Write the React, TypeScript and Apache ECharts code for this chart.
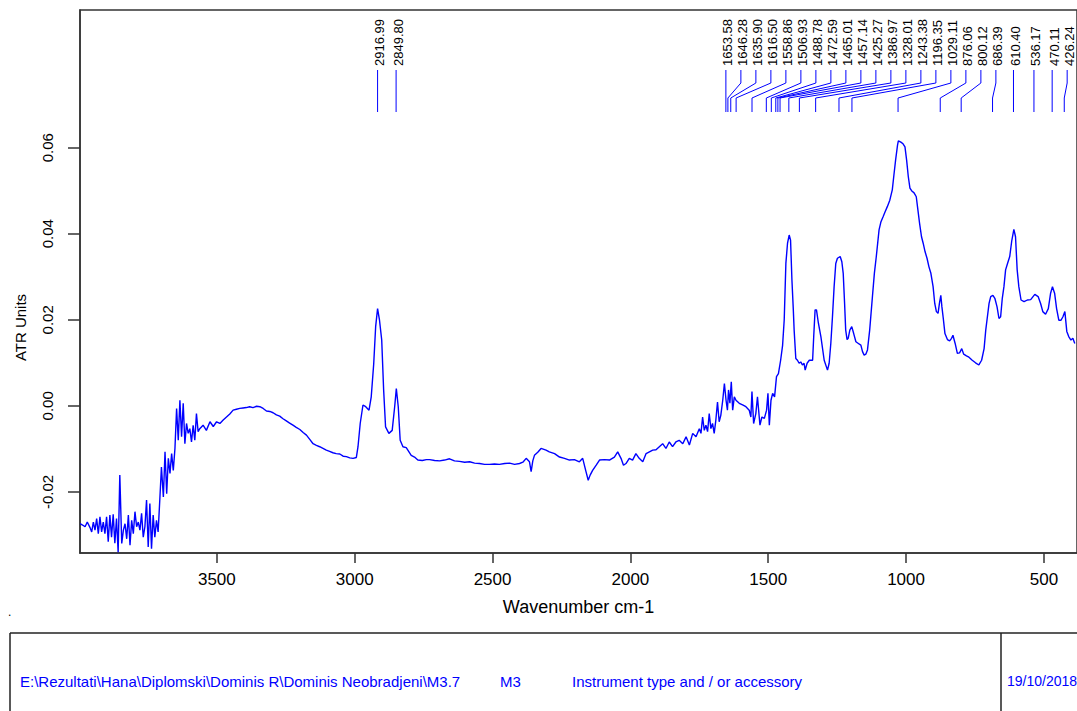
import React, { useEffect, useRef } from "react";
import * as echarts from "echarts";

// Spectrum: wavenumber (cm-1) and ATR units
const wavenumber = [
  3996, 3987, 3978, 3970, 3960, 3954, 3948, 3942, 3936, 3930, 3924, 3918, 3912, 3906, 3900, 3894, 3888, 3882, 3876, 3870,
  3864, 3858, 3852, 3845, 3839, 3833, 3827, 3821, 3815, 3809, 3803, 3797, 3791, 3785, 3779, 3773, 3767, 3761, 3755, 3749,
  3743, 3737, 3731, 3725, 3719, 3713, 3707, 3701, 3694, 3688, 3682, 3676, 3670, 3664, 3658, 3652, 3646, 3640, 3634, 3628,
  3622, 3616, 3610, 3604, 3598, 3592, 3586, 3580, 3574, 3568, 3562, 3550, 3538, 3525, 3513, 3501, 3489, 3477, 3465, 3453,
  3441, 3429, 3417, 3405, 3393, 3381, 3369, 3356, 3344, 3332, 3320, 3308, 3296, 3284, 3272, 3260, 3248, 3236, 3224, 3212,
  3199, 3187, 3175, 3163, 3151, 3139, 3127, 3115, 3103, 3091, 3079, 3067, 3054, 3042, 3030, 3018, 3006, 2994,
  2988, 2980, 2970, 2960, 2948, 2940, 2931, 2924, 2917, 2910, 2902, 2895, 2888, 2876, 2864, 2855, 2849, 2842, 2835, 2825,
  2813, 2795, 2783, 2771, 2755, 2740, 2728, 2710, 2692, 2674, 2656, 2638, 2620, 2601, 2583, 2565, 2547, 2529, 2511, 2493,
  2475, 2456, 2438, 2420, 2402, 2390, 2378, 2366, 2360, 2354, 2348, 2336, 2324, 2306, 2294, 2275, 2257, 2239, 2221, 2203,
  2185, 2173, 2161, 2153, 2146, 2137, 2124, 2112, 2094, 2076, 2058, 2046, 2034, 2025, 2016, 2004, 1992, 1980, 1968, 1955,
  1943, 1931, 1919, 1907, 1895, 1883, 1871, 1859, 1847, 1835, 1823, 1810, 1798, 1786, 1774, 1762, 1750, 1744, 1738, 1732,
  1726, 1720, 1714, 1708, 1702, 1696, 1690, 1684, 1678, 1672, 1665, 1659, 1653, 1648, 1644, 1639, 1634, 1629, 1623, 1617,
  1605, 1593, 1581, 1569, 1563, 1559, 1553, 1545, 1539, 1530, 1523, 1514, 1506, 1501, 1496, 1490, 1484, 1477, 1470, 1463,
  1455, 1448, 1442, 1436, 1430, 1424, 1419, 1414, 1409, 1406, 1400, 1394, 1388, 1382, 1376, 1370, 1366, 1359, 1351, 1339,
  1335, 1330, 1325, 1318, 1309, 1297, 1285, 1279, 1273, 1267, 1261, 1255, 1249, 1239, 1233, 1228, 1223, 1219, 1214, 1210,
  1204, 1197, 1190, 1182, 1173, 1164, 1158, 1152, 1146, 1140, 1132, 1122, 1115, 1108, 1098, 1091, 1083, 1076, 1068, 1059,
  1050, 1044, 1038, 1031, 1028, 1019, 1011, 1004, 998, 992, 986, 980, 971, 963, 957, 951, 944, 938, 931, 924,
  917, 910, 902, 896, 890, 884, 879, 874, 870, 865, 859, 850, 842, 835, 830, 822, 814, 806, 798, 791,
  781, 772, 760, 748, 736, 726, 717, 711, 705, 699, 693, 685, 678, 670, 663, 657, 651, 645, 639, 632,
  624, 617, 609, 603, 597, 591, 583, 572, 560, 548, 533, 521, 512, 504, 494, 484, 476, 469, 461, 454,
  446, 438, 431, 424, 417, 410, 402, 395, 388,
];

const atrUnits = [
  -0.0274, -0.0277, -0.0281, -0.027, -0.0283, -0.0293, -0.027, -0.0289, -0.0262, -0.0297, -0.0258, -0.0293, -0.027, -0.0297, -0.0258, -0.0316, -0.0254, -0.0305, -0.0252, -0.0319,
  -0.0262, -0.034, -0.0161, -0.032, -0.0289, -0.0274, -0.0309, -0.0254, -0.0324, -0.0266, -0.0297, -0.0246, -0.0281, -0.027, -0.0289, -0.025, -0.0305, -0.0281, -0.0219, -0.0328,
  -0.0227, -0.0332, -0.0254, -0.0305, -0.0266, -0.0293, -0.0219, -0.0142, -0.0212, -0.0107, -0.0204, -0.0122, -0.0157, -0.0111, -0.015, -0.0099, -0.0006, -0.008, 0.0013, -0.0072,
  0.0006, -0.0088, -0.0041, -0.0064, -0.0053, -0.0084, -0.0045, -0.008, -0.0018, -0.006, -0.0053, -0.0045, -0.0057, -0.0037, -0.0048, -0.0037, -0.0041, -0.0033, -0.0026, -0.0019,
  -0.001, -0.0008, -0.0006, -0.0005, -0.0004, -0.0002, -0.0004, -0.0001, -0.0002, -0.0006, -0.0012, -0.0013, -0.0016, -0.0021, -0.0024, -0.003, -0.0035, -0.004, -0.0045, -0.005,
  -0.0055, -0.0062, -0.0068, -0.0078, -0.0088, -0.0092, -0.0095, -0.0099, -0.0103, -0.0106, -0.0109, -0.0111, -0.0112, -0.0117, -0.0118, -0.0121, -0.0122, -0.012,
  -0.0095, -0.0041, 0.0002, -0.0002, -0.001, 0.0021, 0.0098, 0.0184, 0.0226, 0.0199, 0.0153, 0.0037, -0.0049, -0.0064, -0.0057, -0.0002, 0.004, -0.0002, -0.008, -0.0095,
  -0.0097, -0.0115, -0.0119, -0.0126, -0.0127, -0.0125, -0.0125, -0.0127, -0.0128, -0.0126, -0.0123, -0.0128, -0.0129, -0.0131, -0.013, -0.0133, -0.0134, -0.0136, -0.0136, -0.0135,
  -0.0136, -0.0134, -0.0133, -0.0136, -0.0134, -0.0131, -0.0122, -0.013, -0.0153, -0.0128, -0.0115, -0.0108, -0.0099, -0.0103, -0.0107, -0.0111, -0.0119, -0.0122, -0.0126, -0.0125,
  -0.013, -0.0122, -0.0153, -0.0173, -0.0161, -0.015, -0.0138, -0.0126, -0.0125, -0.0126, -0.0119, -0.0107, -0.0122, -0.0138, -0.0134, -0.0122, -0.0126, -0.0111, -0.0122, -0.013,
  -0.0111, -0.0107, -0.0103, -0.0102, -0.0095, -0.0088, -0.0099, -0.0084, -0.0095, -0.0084, -0.008, -0.0088, -0.0072, -0.0091, -0.0064, -0.0072, -0.0053, -0.0064, -0.0026, -0.0057,
  -0.0045, -0.006, -0.0018, -0.0053, -0.0041, -0.0064, -0.0033, 0.0009, -0.0037, -0.0022, 0.0013, 0.0052, 0.0013, -0.001, 0.0037, 0.0006, 0.0056, -0.001, 0.0021, 0.0013,
  0.0006, 0.0002, -0.0002, -0.001, -0.0026, 0.0033, -0.0041, -0.0018, 0.0021, -0.0045, -0.0026, -0.0029, -0.001, 0.0029, -0.0045, 0.0013, 0.0029, 0.0021, 0.0068, 0.0075,
  0.0106, 0.014, 0.02, 0.0331, 0.0378, 0.0397, 0.0385, 0.0292, 0.0223, 0.0176, 0.011, 0.0106, 0.0099, 0.0102, 0.0095, 0.0099, 0.0083, 0.0099, 0.0106, 0.0106,
  0.0161, 0.0223, 0.0223, 0.0192, 0.0161, 0.0106, 0.0083, 0.0099, 0.0145, 0.0207, 0.0277, 0.0331, 0.0343, 0.0347, 0.0335, 0.0308, 0.0238, 0.0176, 0.0154, 0.0157,
  0.0176, 0.0184, 0.0168, 0.0149, 0.0145, 0.0141, 0.0126, 0.0118, 0.012, 0.013, 0.0176, 0.0254, 0.0308, 0.0347, 0.0409, 0.0428, 0.044, 0.0451, 0.0463, 0.0478,
  0.0502, 0.0537, 0.0571, 0.0606, 0.0616, 0.0613, 0.0609, 0.0602, 0.0571, 0.0533, 0.0506, 0.05, 0.0495, 0.0486, 0.0455, 0.0424, 0.0393, 0.0378, 0.0358, 0.0343,
  0.0323, 0.0308, 0.0277, 0.0238, 0.0219, 0.0215, 0.0238, 0.0257, 0.023, 0.0203, 0.0168, 0.0154, 0.0151, 0.0157, 0.0164, 0.0145, 0.0122, 0.0123, 0.0133, 0.012,
  0.0116, 0.0113, 0.0106, 0.01, 0.0095, 0.0106, 0.0133, 0.0176, 0.0207, 0.0238, 0.0254, 0.0257, 0.025, 0.023, 0.0203, 0.0207, 0.025, 0.0277, 0.0316, 0.0331,
  0.0347, 0.0382, 0.041, 0.0393, 0.0316, 0.0277, 0.0246, 0.0242, 0.0246, 0.0247, 0.0259, 0.0254, 0.0238, 0.0219, 0.0213, 0.0226, 0.0261, 0.0277, 0.0261, 0.0226,
  0.0199, 0.0199, 0.0207, 0.0219, 0.0173, 0.0161, 0.0153, 0.0157, 0.0145,
];

// Labelled peak positions (cm-1), left to right
const peaks = [
  2916.99, 2849.8, 1653.58, 1646.28, 1635.9, 1616.5, 1558.86, 1506.93, 1488.78, 1472.59, 1465.01, 1457.14,
  1425.27, 1386.97, 1328.01, 1243.38, 1196.35, 1029.11, 876.06, 800.12, 686.39, 610.4, 536.17, 470.11, 426.24,
];

const xTicks = [3500, 3000, 2500, 2000, 1500, 1000, 500];
const yTicks = [-0.02, 0, 0.02, 0.04, 0.06];

const footerTexts = [
  "E:\\Rezultati\\Hana\\Diplomski\\Dominis R\\Dominis Neobradjeni\\M3.7",
  "M3",
  "Instrument type and / or accessory",
  "19/10/2018",
];

const FONT = "Liberation Sans, Arial, sans-serif";
const BLUE = "#0000ff";
const AXIS = "#333333";

export default function App() {
  const ref = useRef<HTMLDivElement>(null);

  useEffect(() => {
    if (!ref.current) return;
    const chart = echarts.init(ref.current, undefined, { renderer: "svg" });
    const spectrum = wavenumber.map((w, i) => [w, atrUnits[i]]);

    const option: any = {
      animation: false,
      backgroundColor: "#ffffff",
      textStyle: { fontFamily: FONT },
      grid: {
        left: 80,
        top: 10,
        width: 998,
        height: 543,
        show: true,
        borderColor: AXIS,
        borderWidth: 1.5,
        containLabel: false,
      },
      xAxis: {
        type: "value",
        inverse: true,
        min: 380,
        max: 3996.4,
        position: "bottom",
        name: "Wavenumber cm-1",
        nameLocation: "middle",
        nameGap: 45,
        nameTextStyle: { fontSize: 18, color: "#000", fontFamily: FONT },
        axisLine: { show: true, onZero: false, lineStyle: { color: AXIS, width: 1.5 } },
        axisTick: { show: true, customValues: xTicks, length: 10, lineStyle: { color: AXIS, width: 1.5 } },
        axisLabel: {
          customValues: xTicks,
          fontSize: 17,
          color: "#000",
          margin: 18,
          fontFamily: FONT,
          formatter: (v: number) => String(v),
        },
        splitLine: { show: false },
      },
      yAxis: {
        type: "value",
        min: -0.0342,
        max: 0.092,
        name: "ATR Units",
        nameLocation: "middle",
        nameRotate: 90,
        nameGap: 52,
        nameTextStyle: { fontSize: 15, color: "#000", fontFamily: FONT, padding: [0, 92, 0, 0] },
        axisLine: { show: true, onZero: false, lineStyle: { color: AXIS, width: 1.5 } },
        axisTick: { show: true, customValues: yTicks, length: 12, lineStyle: { color: AXIS, width: 1.5 } },
        axisLabel: {
          customValues: yTicks,
          rotate: 90,
          fontSize: 15,
          color: "#000",
          margin: 25,
          fontFamily: FONT,
          formatter: (v: number) => v.toFixed(2),
        },
        splitLine: { show: false },
      },
      series: [
        {
          type: "line",
          data: spectrum,
          showSymbol: false,
          symbol: "none",
          lineStyle: { color: BLUE, width: 1.4 },
          clip: true,
          z: 3,
        },
        {
          type: "custom",
          data: peaks.map((p) => [p, 0.08]),
          clip: false,
          z: 4,
          renderItem: (params: any, api: any) => {
            const i = params.dataIndex;
            const top = params.coordSys.y;
            const px = peaks.map((p) => api.coord([p, 0])[0]);
            const lx: number[] = [];
            for (let k = 0; k < px.length; k++) {
              lx.push(k === 0 ? px[k] : Math.max(px[k], lx[k - 1] + 15));
            }
            return {
              type: "group",
              children: [
                {
                  type: "polyline",
                  shape: {
                    points: [
                      [lx[i], top + 60],
                      [lx[i], top + 73],
                      [px[i], top + 88],
                      [px[i], top + 102],
                    ],
                  },
                  style: { stroke: BLUE, lineWidth: 1, fill: "none" },
                },
                {
                  type: "text",
                  x: lx[i] + 2,
                  y: top + 56,
                  rotation: Math.PI / 2,
                  style: {
                    text: peaks[i].toFixed(2),
                    fill: "#000",
                    fontSize: 13,
                    fontFamily: FONT,
                    align: "left",
                    verticalAlign: "middle",
                  },
                },
              ],
            };
          },
        },
      ],
      graphic: [
        { type: "line", shape: { x1: 10, y1: 633, x2: 1077, y2: 633 }, style: { stroke: "#222", lineWidth: 1.5 } },
        { type: "line", shape: { x1: 10, y1: 633, x2: 10, y2: 711 }, style: { stroke: "#222", lineWidth: 1.5 } },
        { type: "line", shape: { x1: 1001, y1: 633, x2: 1001, y2: 711 }, style: { stroke: "#222", lineWidth: 1.5 } },
        { type: "text", x: 8, y: 606, style: { text: ".", fill: "#000", fontSize: 12, fontFamily: FONT } },
        {
          type: "text",
          x: 20,
          y: 681,
          style: { text: footerTexts[0], fill: BLUE, fontSize: 15, fontFamily: FONT, verticalAlign: "middle" },
        },
        {
          type: "text",
          x: 500,
          y: 681,
          style: { text: footerTexts[1], fill: BLUE, fontSize: 15, fontFamily: FONT, verticalAlign: "middle" },
        },
        {
          type: "text",
          x: 572,
          y: 681,
          style: { text: footerTexts[2], fill: BLUE, fontSize: 15, fontFamily: FONT, verticalAlign: "middle" },
        },
        {
          type: "text",
          x: 1007,
          y: 681,
          style: { text: footerTexts[3], fill: BLUE, fontSize: 14, fontFamily: FONT, verticalAlign: "middle" },
        },
      ],
    };

    chart.setOption(option);
    return () => {
      chart.dispose();
    };
  }, []);

  return (
    <div
      style={{
        position: "absolute",
        left: 0,
        top: 0,
        width: 1077,
        height: 711,
        overflow: "hidden",
        background: "#fff",
      }}
    >
      <div ref={ref} style={{ width: 1077, height: 711 }} />
    </div>
  );
}
